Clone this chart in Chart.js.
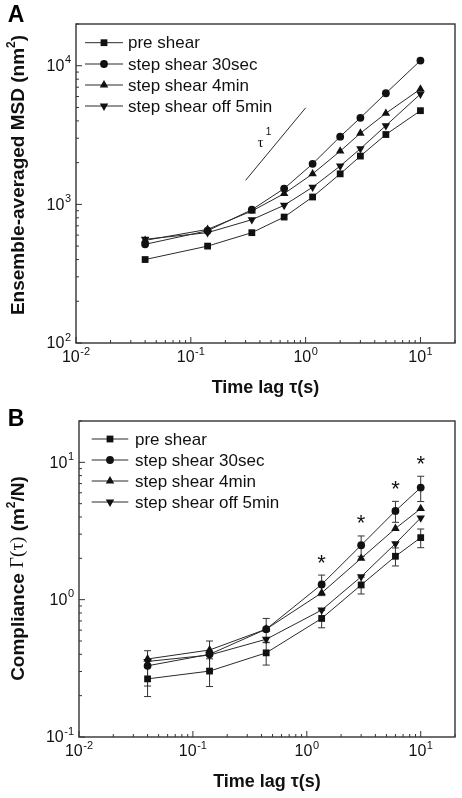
<!DOCTYPE html>
<html>
<head>
<meta charset="utf-8">
<script src="https://cdn.jsdelivr.net/npm/chart.js@4/dist/chart.umd.min.js"></script>
<style>
  html, body { margin: 0; padding: 0; background: #fff; }
  canvas { display: block; }
</style>
</head>
<body>
<canvas id="chartA" width="462" height="400"></canvas>
<canvas id="chartB" width="462" height="398"></canvas>
<script>
// ---------- DATA ----------
const seriesNames = ['pre shear', 'step shear 30sec', 'step shear 4min', 'step shear off 5min'];

// Panel A: ensemble-averaged MSD (nm^2) vs time lag (s)
const timeLagA = [0.04, 0.14, 0.34, 0.65, 1.15, 2.0, 3.0, 5.0, 10];
const msdPreShear = [400, 500, 625, 810, 1130, 1660, 2230, 3190, 4740];
const msdShear30s = [515, 645, 915, 1300, 1960, 3080, 4210, 6330, 10900];
const msdShear4min = [550, 660, 895, 1195, 1660, 2420, 3260, 4540, 6790];
const msdShearOff5min = [560, 625, 775, 985, 1330, 1890, 2520, 3700, 6250];
const slopeLineX = [0.3, 1.0];
const slopeLineY = [1490, 4970];

// Panel B: compliance (m^2/N) vs time lag (s)
const timeLagB = [0.04, 0.14, 0.44, 1.35, 3.0, 6.0, 10];
const compPreShear = [0.265, 0.302, 0.41, 0.73, 1.28, 2.07, 2.83];
const compPreShearErr = [0.068, 0.069, 0.076, 0.106, 0.18, 0.31, 0.44];
const compShear30s = [0.33, 0.40, 0.61, 1.29, 2.49, 4.43, 6.55];
const compShear30sErr = [0.095, 0.10, 0.12, 0.22, 0.42, 0.77, 1.37];
const compShear4min = [0.37, 0.43, 0.61, 1.12, 2.0, 3.30, 4.60];
const compShearOff5min = [0.355, 0.395, 0.515, 0.84, 1.47, 2.56, 3.94];
const significantIdx = [3, 4, 5, 6];

// Axis ticks
const xTickValues = [0.01, 0.1, 1, 10];
const xTickExp = ['-2', '-1', '0', '1'];
const yTickValuesA = [100, 1000, 10000];
const yTickExpA = ['2', '3', '4'];
const yTickValuesB = [0.1, 1, 10];
const yTickExpB = ['-1', '0', '1'];

// ---------- STYLE ----------
const FONT = "'Liberation Sans', Arial, sans-serif";
const SERIF = "'Liberation Serif', 'Times New Roman', serif";
const LINE = '#2a2a2a';
const MARK = '#111';
const markerStyles = [
  { pointStyle: 'rect', radius: 4.8, rotation: 0 },
  { pointStyle: 'circle', radius: 3.9, rotation: 0 },
  { pointStyle: 'triangle', radius: 4.9, rotation: 0 },
  { pointStyle: 'triangle', radius: 4.9, rotation: 180 }
];

function pts(xs, ys) { return xs.map((x, i) => ({ x: x, y: ys[i] })); }

function makeDatasets(xs, seriesList) {
  return seriesList.map((ys, i) => ({
    label: seriesNames[i],
    data: pts(xs, ys),
    borderColor: LINE,
    borderWidth: 1,
    backgroundColor: MARK,
    pointBackgroundColor: MARK,
    pointBorderColor: MARK,
    pointBorderWidth: 0,
    pointStyle: markerStyles[i].pointStyle,
    pointRadius: markerStyles[i].radius,
    pointRotation: markerStyles[i].rotation,
    tension: 0,
    fill: false
  }));
}

function drawMarker(ctx, style, x, y) {
  const r = style.radius;
  ctx.save();
  ctx.fillStyle = MARK;
  ctx.beginPath();
  if (style.pointStyle === 'rect') {
    const s = r * Math.SQRT1_2;
    ctx.rect(x - s, y - s, 2 * s, 2 * s);
  } else if (style.pointStyle === 'circle') {
    ctx.arc(x, y, r, 0, Math.PI * 2);
  } else {
    const rot = style.rotation * Math.PI / 180;
    for (let k = 0; k < 3; k++) {
      const a = rot + k * 2 * Math.PI / 3;
      const px = x + Math.sin(a) * r, py = y - Math.cos(a) * r;
      if (k === 0) ctx.moveTo(px, py); else ctx.lineTo(px, py);
    }
    ctx.closePath();
  }
  ctx.fill();
  ctx.restore();
}

function powLabel(ctx, exp, px, py, align) {
  const baseFont = '16px ' + FONT, expFont = '11px ' + FONT;
  ctx.font = baseFont; const wb = ctx.measureText('10').width;
  ctx.font = expFont; const we = ctx.measureText(exp).width;
  const w = wb + 0.5 + we;
  const start = align === 'center' ? px - w / 2 : px - w;
  ctx.fillStyle = '#111';
  ctx.textBaseline = 'middle';
  ctx.textAlign = 'left';
  ctx.font = baseFont; ctx.fillText('10', start, py);
  ctx.font = expFont; ctx.fillText(exp, start + wb + 0.5, py - 6.5);
}

// rotated y-axis title made of mixed-font segments
function drawYTitle(ctx, segs, cx, cy) {
  ctx.save();
  ctx.translate(cx, cy);
  ctx.rotate(-Math.PI / 2);
  ctx.textBaseline = 'middle';
  ctx.textAlign = 'left';
  ctx.fillStyle = '#111';
  let w = 0;
  segs.forEach(s => { ctx.font = s.f; s.w = ctx.measureText(s.t).width; w += s.w; });
  let x = -w / 2;
  segs.forEach(s => { ctx.font = s.f; ctx.fillText(s.t, x, s.dy || 0); x += s.w; });
  ctx.restore();
}

function frameTicksPlugin(cfg) {
  return {
    id: 'frameTicks_' + cfg.name,
    afterDatasetsDraw(chart) {
      const ctx = chart.ctx, a = chart.chartArea;
      const xs = chart.scales.x, ys = chart.scales.y;
      ctx.save();
      // frame
      ctx.strokeStyle = '#333';
      ctx.lineWidth = 1.4;
      ctx.strokeRect(a.left, a.top, a.right - a.left, a.bottom - a.top);
      // inside ticks
      ctx.lineWidth = 1;
      ctx.beginPath();
      const logTicks = (scale, cb) => {
        const k0 = Math.floor(Math.log10(scale.min)), k1 = Math.ceil(Math.log10(scale.max));
        for (let k = k0; k <= k1; k++) {
          for (let m = 1; m <= 9; m++) {
            const v = m * Math.pow(10, k);
            if (v < scale.min * 0.999 || v > scale.max * 1.001) continue;
            cb(scale.getPixelForValue(v), m === 1 ? 6 : 3);
          }
        }
      };
      logTicks(xs, (p, len) => { ctx.moveTo(p, a.bottom); ctx.lineTo(p, a.bottom - len); });
      logTicks(ys, (p, len) => { ctx.moveTo(a.left, p); ctx.lineTo(a.left + len, p); });
      ctx.stroke();
      // tick labels
      xTickValues.forEach((v, i) => powLabel(ctx, xTickExp[i], xs.getPixelForValue(v), a.bottom + 15, 'center'));
      cfg.yTicks.forEach((v, i) => powLabel(ctx, cfg.yExp[i], a.left - 5, ys.getPixelForValue(v) + 1, 'right'));
      // y-axis title
      drawYTitle(ctx, cfg.yTitle, 18.5, cfg.yTitleY);
      // legend
      cfg.legend.rows.forEach((yy, i) => {
        ctx.strokeStyle = LINE; ctx.lineWidth = 1;
        ctx.beginPath();
        ctx.moveTo(cfg.legend.x0, yy); ctx.lineTo(cfg.legend.x1, yy); ctx.stroke();
        drawMarker(ctx, markerStyles[i], (cfg.legend.x0 + cfg.legend.x1) / 2, yy);
        ctx.fillStyle = '#111';
        ctx.font = '17px ' + FONT;
        ctx.textAlign = 'left'; ctx.textBaseline = 'middle';
        ctx.fillText(seriesNames[i], cfg.legend.tx, yy + 1);
      });
      // panel letter
      ctx.font = 'bold 23px ' + FONT;
      ctx.fillStyle = '#000';
      ctx.textAlign = 'center'; ctx.textBaseline = 'middle';
      ctx.fillText(cfg.letter, 16, cfg.letterY);
      if (cfg.extra) cfg.extra(chart, ctx);
      ctx.restore();
    }
  };
}

function baseOptions(yMin, yMax, yWidth, xHeight, padTop, xTitlePadBottom) {
  return {
    responsive: false,
    animation: false,
    devicePixelRatio: 1,
    layout: { padding: { top: padTop, right: 7, left: 0, bottom: 0 } },
    plugins: { legend: { display: false }, tooltip: { enabled: false } },
    scales: {
      x: {
        type: 'logarithmic', min: 0.01, max: 20,
        grid: { display: false, drawTicks: false },
        border: { display: false },
        ticks: { display: false },
        title: { display: true, text: 'Time lag τ(s)', color: '#111',
                 font: { family: FONT, size: 18, weight: 'bold' },
                 padding: { top: 0, bottom: xTitlePadBottom } },
        afterFit: s => { s.height = xHeight; }
      },
      y: {
        type: 'logarithmic', min: yMin, max: yMax,
        grid: { display: false, drawTicks: false },
        border: { display: false },
        ticks: { display: false },
        title: { display: false },
        afterFit: s => { s.width = yWidth; }
      }
    }
  };
}

const BOLD19 = 'bold 19px ' + FONT;
const SUP = 'bold 12px ' + FONT;

// ---------- PANEL A ----------
const dsA = makeDatasets(timeLagA, [msdPreShear, msdShear30s, msdShear4min, msdShearOff5min]);
dsA.push({
  label: 'slope 1',
  data: pts(slopeLineX, slopeLineY),
  borderColor: LINE, borderWidth: 1, pointRadius: 0, fill: false
});
new Chart(document.getElementById('chartA'), {
  type: 'line',
  data: { datasets: dsA },
  options: baseOptions(100, 20000, 76, 57, 24, 1),
  plugins: [frameTicksPlugin({
    name: 'A', yTicks: yTickValuesA, yExp: yTickExpA, letter: 'A', letterY: 16,
    yTitleY: 175,
    yTitle: [
      { t: 'Ensemble-averaged MSD (nm', f: BOLD19 },
      { t: '2', f: SUP, dy: -7 },
      { t: ')', f: BOLD19 }
    ],
    legend: { x0: 85, x1: 123, tx: 128, rows: [42.7, 64, 85, 106] },
    extra(chart, ctx) {
      const xs = chart.scales.x, ys = chart.scales.y;
      const mx = (xs.getPixelForValue(slopeLineX[0]) + xs.getPixelForValue(slopeLineX[1])) / 2;
      const my = (ys.getPixelForValue(slopeLineY[0]) + ys.getPixelForValue(slopeLineY[1])) / 2;
      ctx.fillStyle = '#111';
      ctx.textAlign = 'center'; ctx.textBaseline = 'middle';
      ctx.font = '15px ' + SERIF;
      ctx.fillText('τ', mx - 15, my - 1);
      ctx.font = '10px ' + FONT;
      ctx.fillText('1', mx - 7, my - 12);
    }
  })]
});

// ---------- PANEL B ----------
const dsB = makeDatasets(timeLagB, [compPreShear, compShear30s, compShear4min, compShearOff5min]);
const errSeries = [
  { vals: compPreShear, errs: compPreShearErr },
  { vals: compShear30s, errs: compShear30sErr }
];
new Chart(document.getElementById('chartB'), {
  type: 'line',
  data: { datasets: dsB },
  options: baseOptions(0.1, 20, 79, 61, 21, 5),
  plugins: [{
    id: 'errorBars',
    beforeDatasetsDraw(chart) {
      const ctx = chart.ctx, xs = chart.scales.x, ys = chart.scales.y;
      ctx.save();
      ctx.strokeStyle = '#333'; ctx.lineWidth = 1;
      ctx.beginPath();
      errSeries.forEach(s => {
        timeLagB.forEach((x, i) => {
          const px = xs.getPixelForValue(x);
          const pHi = ys.getPixelForValue(s.vals[i] + s.errs[i]);
          const pLo = ys.getPixelForValue(s.vals[i] - s.errs[i]);
          ctx.moveTo(px, pHi); ctx.lineTo(px, pLo);
          ctx.moveTo(px - 3.5, pHi); ctx.lineTo(px + 3.5, pHi);
          ctx.moveTo(px - 3.5, pLo); ctx.lineTo(px + 3.5, pLo);
        });
      });
      ctx.stroke();
      ctx.restore();
    }
  }, frameTicksPlugin({
    name: 'B', yTicks: yTickValuesB, yExp: yTickExpB, letter: 'B', letterY: 20,
    yTitleY: 178.5,
    yTitle: [
      { t: 'Compliance ', f: BOLD19 },
      { t: 'Γ(τ)', f: '19px ' + SERIF },
      { t: ' (m', f: BOLD19 },
      { t: '2', f: SUP, dy: -7 },
      { t: '/N)', f: BOLD19 }
    ],
    legend: { x0: 91.7, x1: 128.3, tx: 135, rows: [39, 60, 81, 102] },
    extra(chart, ctx) {
      const xs = chart.scales.x, ys = chart.scales.y;
      ctx.fillStyle = '#111';
      ctx.font = '22px ' + FONT;
      ctx.textAlign = 'center'; ctx.textBaseline = 'alphabetic';
      const m = ctx.measureText('*');
      significantIdx.forEach(i => {
        const px = xs.getPixelForValue(timeLagB[i]);
        const py = ys.getPixelForValue(compShear30s[i] + compShear30sErr[i]) - 16.5;
        ctx.fillText('*', px, py + (m.actualBoundingBoxAscent - m.actualBoundingBoxDescent) / 2);
      });
    }
  })]
});
</script>
</body>
</html>
